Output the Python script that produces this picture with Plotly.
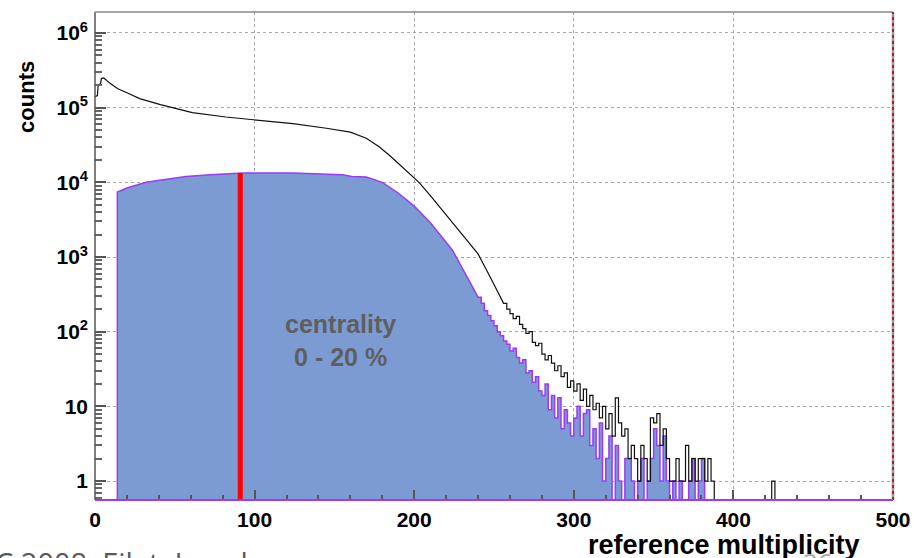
import plotly.graph_objects as go

# ---- data -------------------------------------------------------------
# all events: smooth part (multiplicity, counts)
all_x = [0, 1.5, 2, 3.5, 4, 5.5, 9, 14, 20, 28, 41, 61, 82, 101, 124, 145, 160,
         170, 178, 185, 193, 203, 210, 220, 230, 240, 248, 256]
all_y = [140000, 145000, 200000, 210000, 245000, 250000, 215000, 180000, 158000,
         132000, 110000, 86000, 75000, 69000, 61000, 53000, 47000,
         39000, 30000, 22500, 15500, 10000, 6700, 3700, 2000, 1100, 520, 250]
# all events: tail, bins of width 2 starting at all_tail_start
all_tail_start = 256
all_tail = [240, 200, 175, 150, 160, 125, 110, 95, 100, 72, 65, 70, 50, 42, 48, 38,
            30, 35, 25, 28, 18, 22, 16, 20, 12, 17, 10, 14, 9, 11, 7, 10, 5, 8, 4,
            13, 6, 4, 5, 2, 3, 2, 1, 3, 2, 1, 7, 6, 8, 3, 5, 2, 1, 1, 2, 1, 1, 3,
            1, 2, 1, 2, 2, 1, 2, 1, 0, 0, 0, 0, 0, 0, 0, 0, 0, 0, 0, 0, 0, 0, 0,
            0, 0, 0, 1, 0]

# 0-20 % centrality selection: smooth part
cen_x = [14, 14, 20, 32, 45, 57, 72, 93, 124, 155, 161, 170, 180, 190, 200, 210,
         217, 224, 232, 240]
cen_y = [0, 7400, 8400, 10000, 11000, 12000, 12600, 13300, 13300, 12600, 12000,
         11800, 10000, 7200, 4800, 2900, 1900, 1230, 600, 290]
# 0-20 % centrality selection: tail, bins of width 2
cen_tail_start = 240
cen_tail = [290, 240, 190, 165, 140, 120, 100, 88, 75, 68, 55, 60, 45, 38, 42, 28,
            30, 21, 25, 16, 14, 20, 9, 14, 7, 13, 5, 9, 6, 4, 7, 10, 4, 8, 9, 3,
            5, 2, 6, 1, 2, 4, 0, 3, 1, 0, 2, 2, 1, 0, 1, 2, 0, 1, 2, 5, 3, 1, 4,
            1, 0, 1, 0, 1, 0, 0, 1, 2, 0, 1, 2, 0, 0]
tail_bin = 2

centrality_cut = 91
centrality_cut_counts = 13300

x_ticks = [0, 100, 200, 300, 400, 500]
y_ticks = [1, 10, 100, 1000, 10000, 100000, 1000000]
y_tick_text = ["1", "10", "10<sup>2</sup>", "10<sup>3</sup>", "10<sup>4</sup>",
               "10<sup>5</sup>", "10<sup>6</sup>"]

FLOOR = 0.3  # empty bins are drawn below the visible range


def steps(start, values, width):
    xs, ys = [], []
    for i, v in enumerate(values):
        lo = start + i * width
        y = v if v > 0 else FLOOR
        xs += [lo, lo + width]
        ys += [y, y]
    return xs, ys


cx, cy = steps(cen_tail_start, cen_tail, tail_bin)
cen_full_x = cen_x + cx + [cx[-1]]
cen_full_y = [v if v > 0 else FLOOR for v in cen_y] + cy + [FLOOR]

ax_, ay_ = steps(all_tail_start, all_tail, tail_bin)
all_full_x = all_x + ax_
all_full_y = all_y + ay_

BLUE = "#7b9bd2"
PURPLE = "#9b3cf2"
FONT = "Liberation Sans"

fig = go.Figure()
fig.add_trace(go.Scatter(x=cen_full_x, y=cen_full_y, mode="lines",
                         line=dict(color=PURPLE, width=1.5),
                         fill="tozeroy", fillcolor=BLUE, hoverinfo="skip"))
fig.add_trace(go.Scatter(x=all_full_x, y=all_full_y, mode="lines",
                         line=dict(color="#111111", width=1.2), hoverinfo="skip"))
fig.add_trace(go.Scatter(x=[centrality_cut, centrality_cut],
                         y=[FLOOR, centrality_cut_counts], mode="lines",
                         line=dict(color="#ff0000", width=5), hoverinfo="skip"))

minor_x = [v for v in range(20, 500, 20) if v % 100]
minor_y = [k * 10 ** n for n in range(-1, 7) for k in range(2, 10)]

fig.update_layout(
    width=914, height=558,
    margin=dict(l=95, r=21, t=12, b=58),
    paper_bgcolor="white", plot_bgcolor="white",
    showlegend=False,
    xaxis=dict(range=[0, 500], tickmode="array", tickvals=x_ticks,
               automargin=False, ticklabelstandoff=5,
               ticks="inside", ticklen=10, tickwidth=1.5, tickcolor="#555",
               showline=False, zeroline=False,
               showgrid=True, gridcolor="#a8a8a8", griddash="dot", gridwidth=1,
               minor=dict(tickvals=minor_x, ticks="inside", ticklen=5,
                          tickcolor="#555", showgrid=False),
               tickfont=dict(family=FONT, size=21, color="black", weight="bold")),
    yaxis=dict(type="log", range=[-0.254, 6.281], tickmode="array",
               tickvals=y_ticks, ticktext=y_tick_text,
               automargin=False, ticklabelstandoff=6,
               ticks="inside", ticklen=11, tickwidth=1.5, tickcolor="#555",
               showline=False, zeroline=False,
               showgrid=True, gridcolor="#a8a8a8", griddash="dot", gridwidth=1,
               minor=dict(tickvals=minor_y, ticks="inside", ticklen=7,
                          tickcolor="#666", showgrid=False),
               tickfont=dict(family=FONT, size=21, color="black", weight="bold")),
)

# frame
frame = dict(xref="paper", yref="paper", layer="above")
fig.add_shape(type="line", x0=0, x1=0, y0=0, y1=1, line=dict(color="#555", width=1.5), **frame)
fig.add_shape(type="line", x0=0, x1=1, y0=1, y1=1, line=dict(color="#888", width=1.5), **frame)
fig.add_shape(type="line", x0=1, x1=1, y0=0, y1=1, line=dict(color="#999", width=2.5), **frame)
fig.add_shape(type="line", x0=1, x1=1, y0=0, y1=1,
              line=dict(color="#b22222", width=2, dash="dot"), **frame)
fig.add_shape(type="line", x0=0, x1=1, y0=0, y1=0, line=dict(color=PURPLE, width=2), **frame)

# labels
fig.add_annotation(text="counts", xref="paper", yref="paper", x=-0.0852, y=0.826,
                   xanchor="center", yanchor="middle",
                   textangle=-90, showarrow=False,
                   font=dict(family=FONT, size=22, color="black", weight="bold"))
fig.add_annotation(text="26", xref="paper", yref="paper", x=0.906, y=-0.086,
                   xanchor="center", yanchor="top", showarrow=False,
                   font=dict(family="Open Sans", size=26, color="#a8a8a8"))
fig.add_annotation(text="reference multiplicity", xref="paper", yref="paper",
                   x=0.961, y=-0.0922, xanchor="right", yanchor="middle",
                   showarrow=False,
                   font=dict(family=FONT, size=27, color="black", weight="bold"))
fig.add_annotation(text="C 2008, Eilat, Israel", xref="paper", yref="paper",
                   x=-0.128, y=-0.083, xanchor="left", yanchor="top",
                   showarrow=False,
                   font=dict(family="Open Sans", size=29, color="#595959"))
fig.add_annotation(text="centrality<br>0 - 20 %", x=154, y=1.888,
                   showarrow=False,
                   font=dict(family=FONT, size=25, color="#5f5f5f", weight="bold"))

fig.write_html("out.html")
